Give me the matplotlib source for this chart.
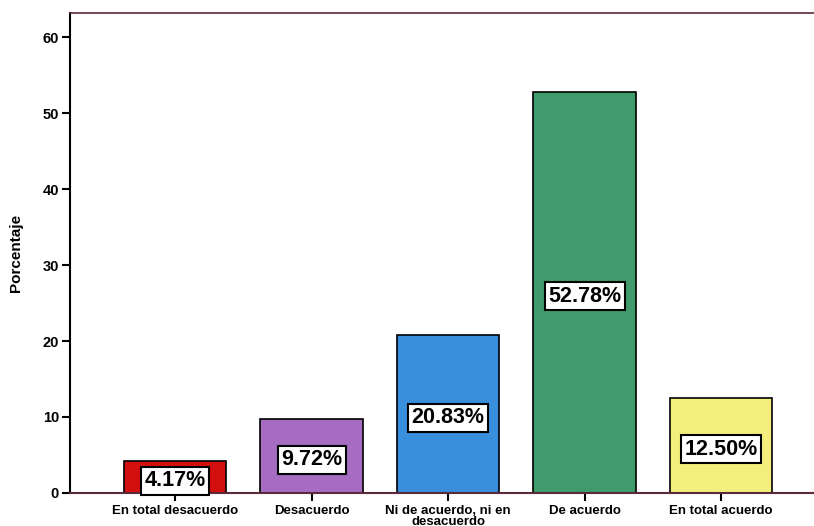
import matplotlib
matplotlib.use("Agg")
import matplotlib.pyplot as plt

plt.rcParams['font.family'] = ['Liberation Sans', 'DejaVu Sans']

categories = ["En total desacuerdo", "Desacuerdo", "Ni de acuerdo, ni en\ndesacuerdo",
              "De acuerdo", "En total acuerdo"]
percentages = [4.17, 9.72, 20.83, 52.78, 12.50]
bar_colors = ["#d40f0f", "#a56cc1", "#3a8fdc", "#3f9b6b", "#f4ef7c"]
yticks = [0, 10, 20, 30, 40, 50, 60]

fig = plt.figure(figsize=(8.14, 5.26), dpi=100)
ax = fig.add_axes([0.086, 0.063, 0.914, 0.912])

x = range(len(categories))
ax.bar(x, percentages, width=0.75, color=bar_colors, edgecolor="black", linewidth=1.2, zorder=2)

for xi, v in zip(x, percentages):
    ax.text(xi, max(v / 2 - 0.5, 1.5), f"{v:.2f}%", ha="center", va="center",
            fontsize=15.5, fontweight="bold", zorder=3,
            bbox=dict(boxstyle="square,pad=0.16", facecolor="white", edgecolor="black", linewidth=1.5))

ax.set_xlim(-0.77, 4.68)
ax.set_ylim(0, 63.2)
ax.set_yticks(yticks)
ax.set_xticks(list(x))
ax.set_xticklabels(categories, fontsize=9.5, fontweight="bold", linespacing=0.8)
ax.tick_params(axis="y", labelsize=10.5, length=6, width=1.5, pad=2)
for lbl in ax.get_yticklabels():
    lbl.set_fontweight("bold")
ax.tick_params(axis="x", length=6, width=1.5, pad=3)
ax.set_ylabel("Porcentaje", fontsize=11, fontweight="bold", labelpad=14)

ax.spines["right"].set_visible(False)
ax.spines["left"].set_linewidth(1.5)
ax.spines["left"].set_color("black")
ax.spines["top"].set_color("#5a2a3a")
ax.spines["top"].set_linewidth(1.2)
ax.spines["bottom"].set_color("#5a2a3a")
ax.spines["bottom"].set_linewidth(1.5)

fig.savefig("out.png", dpi=100)
